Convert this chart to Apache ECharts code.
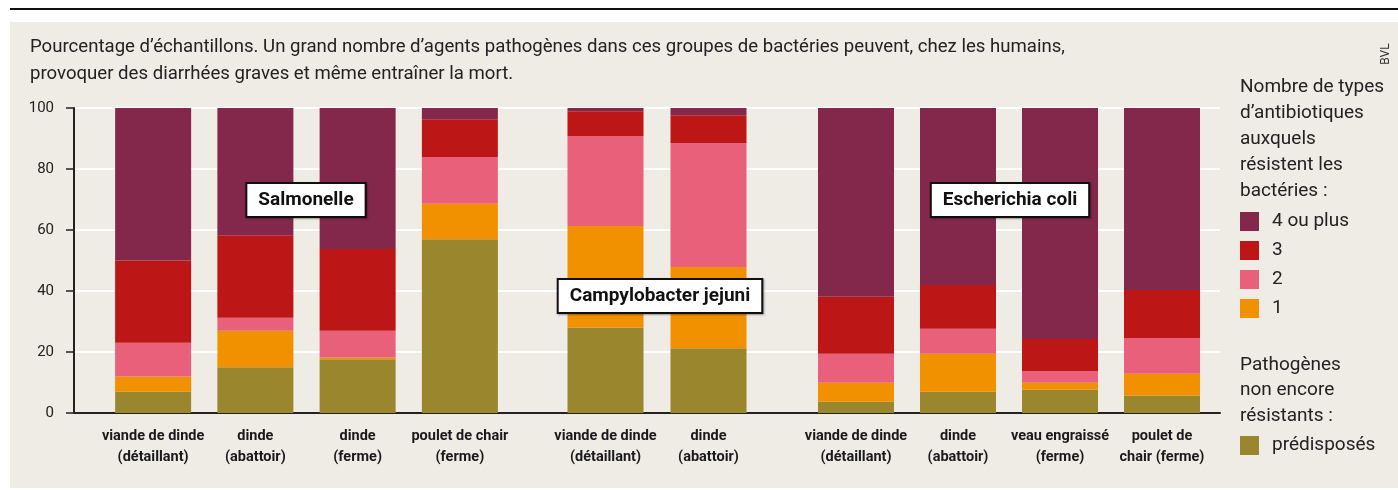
<!DOCTYPE html>
<html>
<head>
<meta charset="UTF-8">
<title>Résistance aux antibiotiques</title>
<style>
  body{margin:0;background:#fff;}
  #wrap{position:relative;width:1398px;height:490px;}
  #rule{position:absolute;left:10px;top:8px;width:1388px;height:2px;background:#111;}
  #panel{position:absolute;left:10px;top:22px;width:1388px;height:466px;background:#efebe5;}
  #main{position:absolute;left:0;top:0;width:1398px;height:490px;}
</style>
</head>
<body>
<div id="wrap"><div id="rule"></div><div id="panel"></div><div id="main"></div></div>
<script src="https://cdn.jsdelivr.net/npm/echarts@6/dist/echarts.min.js"></script>
<script>
// catégories, par groupe de bactéries
var catSalmonelle = ['viande de dinde\n(détaillant)', 'dinde\n(abattoir)', 'dinde\n(ferme)', 'poulet de chair\n(ferme)'];
var catCampylo = ['viande de dinde\n(détaillant)', 'dinde\n(abattoir)'];
var catColi = ['viande de dinde\n(détaillant)', 'dinde\n(abattoir)', 'veau engraissé\n(ferme)', 'poulet de\nchair (ferme)'];

// % d'échantillons (10 barres, dans l'ordre des catégories ci-dessus)
var predisposes = [7, 15, 17.6, 57, 28, 21.2, 3.7, 7, 7.6, 5.7];
var un = [5, 12, 0.6, 11.6, 33.3, 26.7, 6.2, 12.4, 2.3, 7.2];
var deux = [11, 4.2, 8.8, 15.3, 29.4, 40.6, 9.5, 8.2, 3.9, 11.7];
var trois = [27, 27.1, 26.8, 12.4, 8.2, 9.1, 18.7, 14.4, 10.5, 15.7];
var quatrePlus = [50, 41.7, 46.2, 3.7, 1.1, 2.4, 61.9, 58, 75.7, 59.7];

var yTicks = [0, 20, 40, 60, 80, 100];

var niveaux = [
  {name: 'prédisposés', data: predisposes, color: '#9a862d'},
  {name: '1', data: un, color: '#f29100'},
  {name: '2', data: deux, color: '#e8607a'},
  {name: '3', data: trois, color: '#bc1616'},
  {name: '4 ou plus', data: quatrePlus, color: '#84284b'}
];

var groupes = [
  {cats: catSalmonelle, left: 102, width: 409},
  {cats: catCampylo, left: 554, width: 206},
  {cats: catColi, left: 805, width: 408}
];

var myChart = echarts.init(document.getElementById('main'), null, {renderer: 'canvas'});

var fontTxt = 'Roboto, "Noto Sans", sans-serif';
var grids = [{left: 74, right: 178, top: 108, bottom: 77}];
var xAxes = [{
  type: 'value', gridIndex: 0, min: 0, max: 1,
  axisLine: {show: true, lineStyle: {color: '#222', width: 2}},
  axisTick: {show: false}, axisLabel: {show: false}, splitLine: {show: false}
}];
var yAxes = [{
  type: 'value', gridIndex: 0, min: yTicks[0], max: yTicks[yTicks.length - 1], interval: 20,
  axisLine: {show: true, lineStyle: {color: '#222', width: 2}},
  axisTick: {show: true, length: 8, lineStyle: {color: '#222', width: 1.5}},
  axisLabel: {fontSize: 15, color: '#222', margin: 20, fontFamily: fontTxt},
  splitLine: {show: true, lineStyle: {color: '#ffffff', width: 2}}
}];
var series = [];
var debut = 0;
groupes.forEach(function (g, i) {
  var gi = i + 1;
  grids.push({left: g.left, width: g.width, top: 108, bottom: 77});
  xAxes.push({
    type: 'category', gridIndex: gi, data: g.cats,
    axisLine: {show: false}, axisTick: {show: false},
    axisLabel: {interval: 0, fontSize: 14.5, fontWeight: 'bold', color: '#1a1a1a', lineHeight: 21, margin: 13, fontFamily: fontTxt}
  });
  yAxes.push({type: 'value', gridIndex: gi, min: 0, max: 100, show: false});
  niveaux.forEach(function (n) {
    series.push({
      name: n.name, type: 'bar', stack: 'g' + gi,
      xAxisIndex: gi, yAxisIndex: gi, barWidth: 76,
      itemStyle: {color: n.color},
      emphasis: {disabled: true},
      data: n.data.slice(debut, debut + g.cats.length)
    });
  });
  debut += g.cats.length;
});

var boite = function (txt, x, y) {
  return {
    type: 'text', x: x, y: y, z: 100,
    style: {
      text: txt, font: 'bold 19px ' + fontTxt, fill: '#111',
      align: 'center', verticalAlign: 'middle',
      backgroundColor: '#fff', borderColor: '#111', borderWidth: 2, padding: [7, 11, 6, 11],
      shadowColor: 'rgba(0,0,0,0.35)', shadowOffsetX: 1, shadowOffsetY: 1, shadowBlur: 2
    }
  };
};

var option = {
  animation: false,
  textStyle: {fontFamily: fontTxt},
  grid: grids,
  xAxis: xAxes,
  yAxis: yAxes,
  legend: [{
    data: ['4 ou plus', '3', '2', '1'],
    orient: 'vertical', left: 1240, top: 212, padding: 0,
    icon: 'rect', itemWidth: 19, itemHeight: 19, itemGap: 10,
    textStyle: {fontSize: 19, color: '#222', padding: [2, 0, 0, 8]}
  }, {
    data: ['prédisposés'],
    orient: 'vertical', left: 1240, top: 436, padding: 0,
    icon: 'rect', itemWidth: 19, itemHeight: 19,
    textStyle: {fontSize: 19, color: '#222', padding: [2, 0, 0, 8]}
  }],
  graphic: [
    {type: 'text', left: 30, top: 34, style: {
      text: 'Pourcentage d\u2019échantillons. Un grand nombre d\u2019agents pathogènes dans ces groupes de bactéries peuvent, chez les humains,\nprovoquer des diarrhées graves et même entraîner la mort.',
      font: '18.6px ' + fontTxt, fill: '#222', lineHeight: 27}},
    {type: 'text', left: 1240, top: 74, style: {
      text: 'Nombre de types\nd\u2019antibiotiques\nauxquels\nrésistent les\nbactéries :',
      font: '19px ' + fontTxt, fill: '#222', lineHeight: 26}},
    {type: 'text', left: 1240, top: 352, style: {
      text: 'Pathogènes\nnon encore\nrésistants :',
      font: '19px ' + fontTxt, fill: '#222', lineHeight: 25.5}},
    {type: 'text', x: 1386, y: 54, rotation: Math.PI / 2, style: {
      text: 'BVL', font: '12px ' + fontTxt, fill: '#333', align: 'center', verticalAlign: 'middle'}},
    boite('Salmonelle', 306, 200),
    boite('Campylobacter jejuni', 660, 296),
    boite('Escherichia coli', 1010, 200)
  ],
  series: series
};
myChart.setOption(option);
</script>
</body>
</html>
